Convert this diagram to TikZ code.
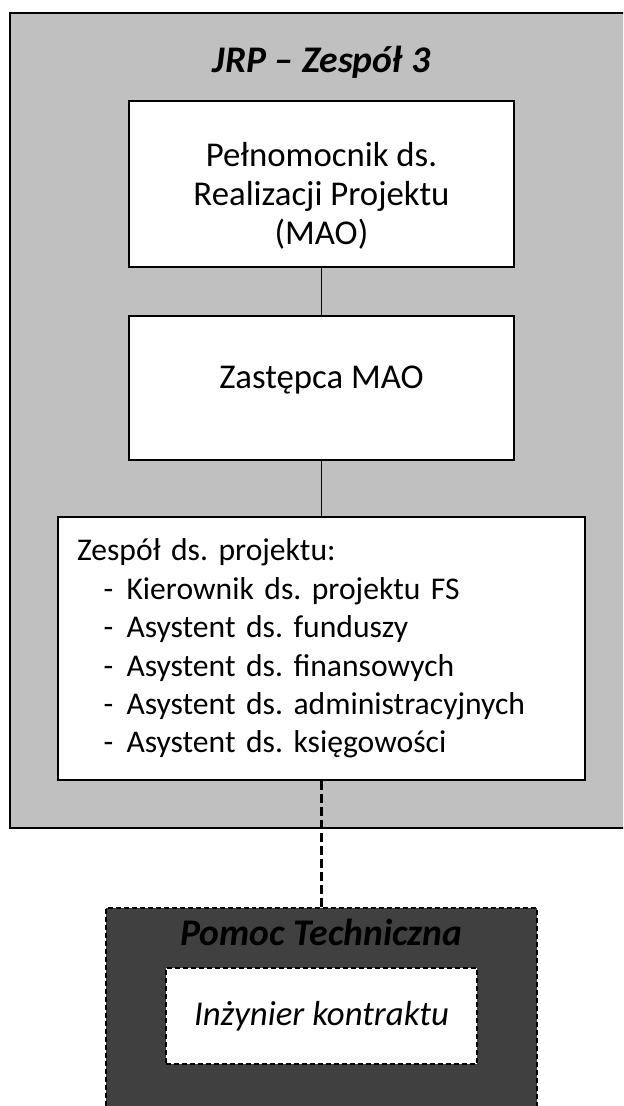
\documentclass[tikz,border=0pt]{standalone}
\usepackage{fontspec}
\setmainfont{Carlito}
\usetikzlibrary{positioning}
\definecolor{group-fill}{HTML}{C0C0C0}
\definecolor{ta-fill}{HTML}{404040}
\newcommand{\orgfont}{\fontsize{19.8}{22.2}\selectfont\frenchspacing}
\newcommand{\teamfont}{\fontsize{18}{21.9}\selectfont\frenchspacing}
\newcommand{\titlefont}{\fontsize{21.4}{24}\selectfont\bfseries\itshape}
\newcommand{\teamitem}[1]{\hspace*{0.53cm}\makebox[0.46cm][l]{-}#1}
\tikzset{
  groupbox/.style={draw=black, fill=group-fill, line width=1.2pt},
  tabox/.style={draw=black, fill=ta-fill, line width=1.1pt, dash pattern=on 0.1cm off 0.06cm},
  orgbox/.style={draw=black, fill=white, line width=1.1pt, inner sep=0pt},
  boxtext/.style={align=center, font=\orgfont, inner sep=0pt},
  engbox/.style={orgbox, dash pattern=on 0.1cm off 0.06cm},
  grouptitle/.style={font=\titlefont, inner sep=0pt},
  link/.style={draw=black, line width=1.1pt},
  talink/.style={link, line width=1.3pt, dash pattern=on 0.18cm off 0.08cm}
}
\begin{document}
\begin{tikzpicture}[x=0.02cm, y=-0.02cm]
  \clip (0,0) rectangle (623,1106);

  % ---- JRP group -----------------------------------------------------------
  \node[groupbox, minimum width=12.81cm, minimum height=16.30cm] (jrp) at (329.75,420.5) {};
  \node[grouptitle] (jrp-title) at (321.5,62) {JRP – Zespół 3};

  \node[orgbox, minimum width=7.70cm, minimum height=3.32cm] (mao) at (321.5,184) {};
  \node[boxtext] (mao-text) at (321.5,196)
    {Pełnomocnik ds.\\Realizacji Projektu\\(MAO)};

  \node[orgbox, minimum width=7.70cm, minimum height=2.88cm] (deputy) at (321.5,388) {};
  \node[boxtext] (deputy-text) at (321.5,380) {Zastępca MAO};

  \node[orgbox, align=left, font=\teamfont, text width=9.78cm, inner xsep=0.39cm,
        minimum width=10.56cm, minimum height=5.26cm] (team) at (321.5,648.5)
    {Zespół ds. projektu:\\
     \teamitem{Kierownik ds. projektu FS}\\
     \teamitem{Asystent ds. funduszy}\\
     \teamitem{Asystent ds. finansowych}\\
     \teamitem{Asystent ds. administracyjnych}\\
     \teamitem{Asystent ds. księgowości}};

  \draw[link] (mao.south) -- (deputy.north);
  \draw[link] (deputy.south) -- (team.north);

  % ---- technical assistance ------------------------------------------------
  \node[tabox, minimum width=8.64cm, minimum height=4.14cm] (ta) at (321.5,1011.5) {};
  \node[grouptitle] (ta-title) at (321.5,932) {Pomoc Techniczna};
  \node[engbox, minimum width=6.22cm, minimum height=1.92cm] (eng) at (321.5,1016) {};
  \node[boxtext, font=\orgfont\itshape] (eng-text) at (321.5,1016) {Inżynier kontraktu};

  \draw[talink] (team.south) -- (ta.north);

\end{tikzpicture}
\end{document}
